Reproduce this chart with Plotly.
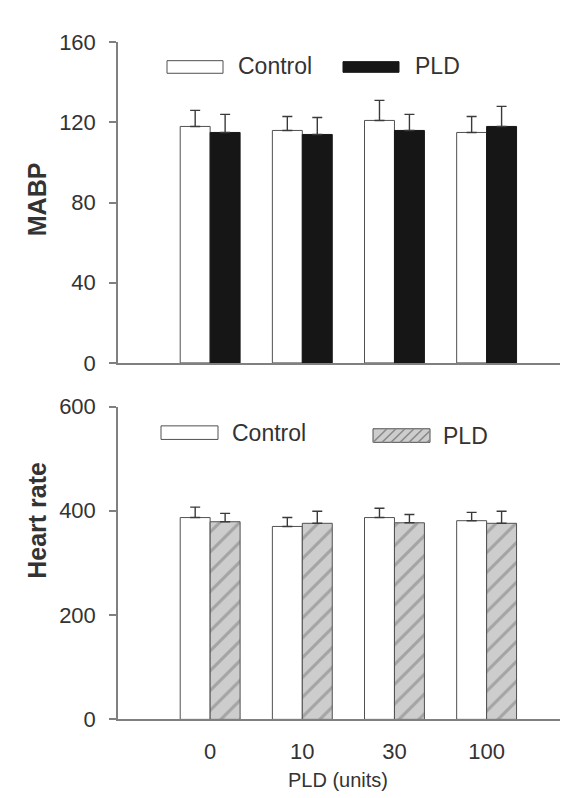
import plotly.graph_objects as go

# ---------------- data ----------------
doses = ["0", "10", "30", "100"]

mabp_control = [118, 116, 121, 115]
mabp_control_err = [8, 7, 10, 8]
mabp_pld = [115, 114, 116, 118]
mabp_pld_err = [9, 8.5, 8, 10]

hr_control = [387, 370, 387, 381]
hr_control_err = [20, 17, 18, 16]
hr_pld = [379, 376, 377, 376]
hr_pld_err = [16, 23, 16, 23]

mabp_ticks = [0, 40, 80, 120, 160]
hr_ticks = [0, 200, 400, 600]

# ---------------- style ----------------
W, H = 568, 798
FONT = "Liberation Sans, Arial, sans-serif"
TXT = "#333333"
AX = "#808080"
OUT = "#505050"

def px(x):
    return x / W

def py(y):
    return 1 - y / H

fig = go.Figure()

err_style = dict(type="data", symmetric=False, color="#3a3a3a", thickness=1.4, width=5)

fig.add_trace(go.Bar(x=doses, y=mabp_control, name="Control",
                     marker=dict(color="white", line=dict(color=OUT, width=1)),
                     error_y=dict(array=mabp_control_err, arrayminus=[0]*4, **err_style),
                     xaxis="x", yaxis="y", showlegend=False))
fig.add_trace(go.Bar(x=doses, y=mabp_pld, name="PLD",
                     marker=dict(color="#161616", line=dict(color="#161616", width=1)),
                     error_y=dict(array=mabp_pld_err, arrayminus=[0]*4, **err_style),
                     xaxis="x", yaxis="y", showlegend=False))
fig.add_trace(go.Bar(x=doses, y=hr_control, name="Control",
                     marker=dict(color="white", line=dict(color=OUT, width=1)),
                     error_y=dict(array=hr_control_err, arrayminus=[0]*4, **err_style),
                     xaxis="x2", yaxis="y2", showlegend=False))
fig.add_trace(go.Bar(x=doses, y=hr_pld, name="PLD",
                     marker=dict(color="#cbcbcb", line=dict(color=OUT, width=1),
                                 pattern=dict(shape="/", fgcolor="#7c7c7c", bgcolor="#cdcdcd",
                                              size=14, solidity=0.22)),
                     error_y=dict(array=hr_pld_err, arrayminus=[0]*4, **err_style),
                     xaxis="x2", yaxis="y2", showlegend=False))

xdom = [px(110), 1.0]
xrange = [-1.0, 3.97]

common_y = dict(showgrid=False, zeroline=False, showline=True, linecolor=AX, linewidth=1.5,
                ticks="outside", ticklen=7, tickcolor=AX, tickwidth=1.5,
                tickfont=dict(family=FONT, size=22, color=TXT), ticklabelstandoff=9)

fig.update_layout(
    width=W, height=H,
    margin=dict(l=0, r=0, t=0, b=0),
    paper_bgcolor="white", plot_bgcolor="white",
    barmode="group", bargap=0.35, bargroupgap=0,
    font=dict(family=FONT, color=TXT),
    xaxis=dict(domain=xdom, range=xrange, type="category", showticklabels=False,
               showgrid=False, zeroline=False, showline=True, linecolor=AX, linewidth=1.5,
               ticks="", anchor="y"),
    yaxis=dict(domain=[py(354), py(23)], range=[0, 160], tickvals=mabp_ticks,
               anchor="x", **common_y),
    xaxis2=dict(domain=xdom, range=xrange, type="category",
                tickvals=doses, ticktext=doses,
                tickfont=dict(family=FONT, size=22, color=TXT), ticklabelstandoff=11,
                showgrid=False, zeroline=False, showline=True, linecolor=AX, linewidth=1.5,
                ticks="", anchor="y2"),
    yaxis2=dict(domain=[py(722), py(399)], range=[0, 600], tickvals=hr_ticks,
                anchor="x2", **common_y),
    showlegend=False,
)

annotations = [
    dict(text="<b>MABP</b>", textangle=-90, x=px(29), y=py(185), xref="paper", yref="paper",
         showarrow=False, font=dict(family=FONT, size=25, color=TXT), xanchor="center", yanchor="middle"),
    dict(text="<b>Heart rate</b>", textangle=-90, x=px(29), y=py(517), xref="paper", yref="paper",
         showarrow=False, font=dict(family=FONT, size=25, color=TXT), xanchor="center", yanchor="middle"),
    dict(text="PLD (units)", x=px(330), y=py(785), xref="paper", yref="paper",
         showarrow=False, font=dict(family=FONT, size=20, color=TXT), xanchor="center", yanchor="middle"),
    # legends text
    dict(text="Control", x=px(228), y=py(48), xref="paper", yref="paper", showarrow=False,
         font=dict(family=FONT, size=23, color=TXT), xanchor="left", yanchor="middle"),
    dict(text="PLD", x=px(405), y=py(48), xref="paper", yref="paper", showarrow=False,
         font=dict(family=FONT, size=23, color=TXT), xanchor="left", yanchor="middle"),
    dict(text="Control", x=px(222), y=py(426), xref="paper", yref="paper", showarrow=False,
         font=dict(family=FONT, size=23, color=TXT), xanchor="left", yanchor="middle"),
    dict(text="PLD", x=px(433), y=py(429), xref="paper", yref="paper", showarrow=False,
         font=dict(family=FONT, size=23, color=TXT), xanchor="left", yanchor="middle"),
]

shapes = [
    dict(type="rect", xref="paper", yref="paper", x0=px(159), x1=px(215), y0=py(55), y1=py(42),
         fillcolor="white", line=dict(color=OUT, width=1)),
    dict(type="rect", xref="paper", yref="paper", x0=px(335), x1=px(391), y0=py(54), y1=py(43),
         fillcolor="#161616", line=dict(color="#161616", width=1)),
    dict(type="rect", xref="paper", yref="paper", x0=px(153), x1=px(210), y0=py(433), y1=py(419),
         fillcolor="white", line=dict(color=OUT, width=1)),
    dict(type="rect", xref="paper", yref="paper", x0=px(365), x1=px(422), y0=py(436), y1=py(422),
         fillcolor="#cdcdcd", line=dict(color=OUT, width=1)),
]
# hatch lines in the PLD legend key (bottom)
for x0 in range(365, 422, 9):
    xa, ya = x0, 436
    xb, yb = min(x0 + 14, 422), 436 - (min(x0 + 14, 422) - x0)
    shapes.append(dict(type="line", xref="paper", yref="paper", x0=px(xa), y0=py(ya),
                       x1=px(xb), y1=py(yb), line=dict(color="#8a8a8a", width=1.5)))

fig.update_layout(annotations=annotations, shapes=shapes)

fig.write_html("out.html")
